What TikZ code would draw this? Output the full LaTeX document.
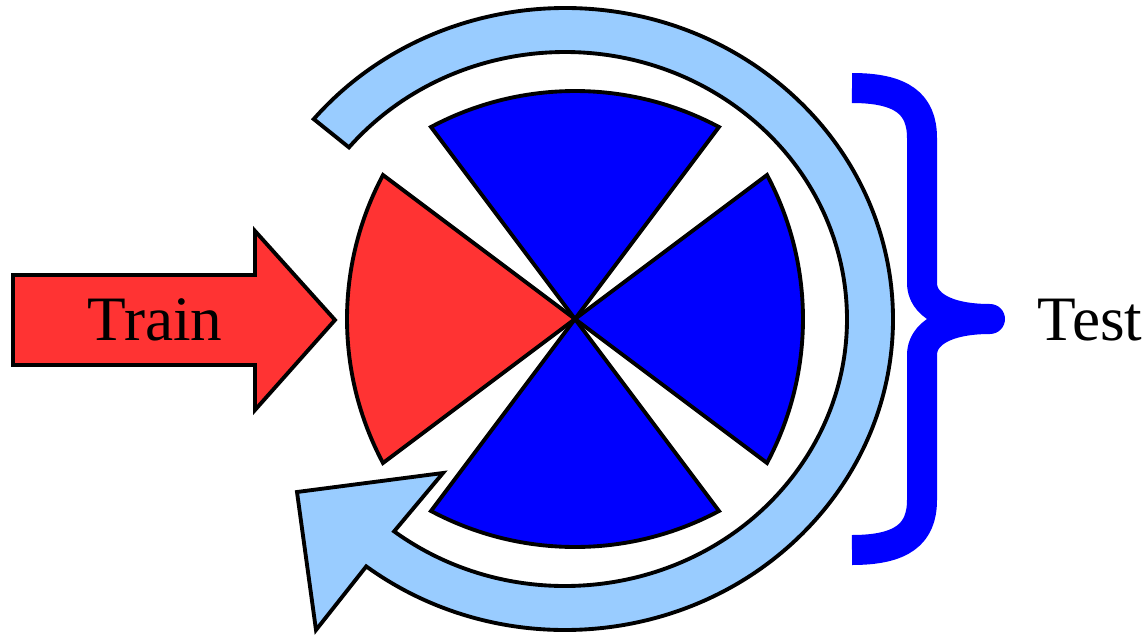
\documentclass[tikz,border=0pt]{standalone}
\usepackage{fontspec}
\setmainfont{Liberation Serif}
\usepackage{xcolor}
\usepackage{tikz}
\usetikzlibrary{calc}
\definecolor{trainred}{RGB}{255,51,51}
\definecolor{foldblue}{RGB}{0,0,255}
\definecolor{ringblue}{RGB}{153,204,255}

\begin{document}
\begin{tikzpicture}[line width=1.1pt,
    wedge/.style={draw=black, line join=miter},
    label/.style={font=\fontsize{18}{20}\selectfont, inner sep=0pt}]
    \useasboundingbox (0,0) rectangle (11.48,6.34);
    \coordinate (hub) at (5.75,3.15);
    \coordinate (ring) at (5.65,3.15);

    \draw[fill=ringblue] ($(ring)+(140:3.28 and 3.11)$)
        arc[start angle=140, end angle=-127.3, x radius=3.28, y radius=3.11]
        -- (3.16,0.04) -- (2.97,1.42) -- (4.43,1.61)
        -- ($(ring)+(-127.3:2.82 and 2.67)$)
        arc[start angle=-127.3, end angle=140, x radius=2.82, y radius=2.67] -- cycle;

    \begin{scope}[shift={(hub)}, rotate=180]
        \draw[wedge, fill=trainred] (0,0) -- (1.92,1.44) arc[start angle=28.07, end angle=-28.07, radius=3.06] -- cycle;
    \end{scope}
    \foreach \a in {0,90,270} {
        \begin{scope}[shift={(hub)}, rotate=\a]
            \draw[wedge, fill=foldblue] (0,0) -- (1.92,1.44) arc[start angle=28.07, end angle=-28.07, radius=3.06] -- cycle;
        \end{scope}
    }

    \draw[fill=trainred] (0.13,3.59) -- (2.55,3.59) -- (2.55,4.03) -- (3.35,3.14)
        -- (2.55,2.24) -- (2.55,2.69) -- (0.13,2.69) -- cycle;
    \node[label] (train) at (1.55,3.14) {Train};

    \draw[foldblue, line width=0.30cm, line join=round]
        (8.52,5.46) .. controls (9.02,5.46) and (9.22,5.30) .. (9.22,4.96)
        -- (9.22,3.51) .. controls (9.22,3.30) and (9.45,3.15) .. (9.90,3.15)
        .. controls (9.45,3.15) and (9.22,3.00) .. (9.22,2.79)
        -- (9.22,1.34) .. controls (9.22,1.00) and (9.02,0.84) .. (8.52,0.84);
    \node[label] (test) at (10.90,3.14) {Test};
\end{tikzpicture}
\end{document}
